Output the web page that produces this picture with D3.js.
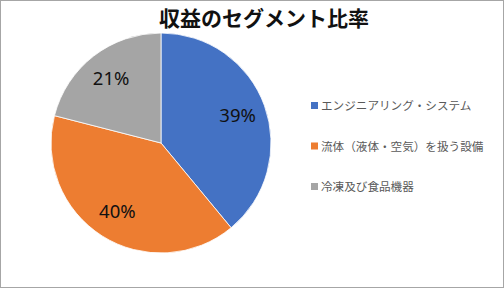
<!DOCTYPE html>
<html>
<head>
<meta charset="utf-8">
<script src="https://cdn.jsdelivr.net/npm/d3@7"></script>
<style>
  body { margin: 0; background: #fff; }
  text { font-family: "Noto Sans CJK JP", "Noto Sans", sans-serif; }
</style>
</head>
<body>
<div id="chart"></div>
<script>
const categories = ["エンジニアリング・システム", "流体（液体・空気）を扱う設備", "冷凍及び食品機器"];
const values = [39, 40, 21];
const colors = ["#4472C4", "#ED7D31", "#A5A5A5"];
const title = "収益のセグメント比率";

const width = 504, height = 288;
const cx = 161, cy = 143, radius = 110;

const svg = d3.select("#chart").append("svg")
  .attr("width", width)
  .attr("height", height);

svg.append("rect")
  .attr("x", 0.5).attr("y", 0.5)
  .attr("width", width - 1).attr("height", height - 1)
  .attr("fill", "#fff")
  .attr("stroke", "#A6A6A6");

svg.append("text")
  .attr("x", 264).attr("y", 26)
  .attr("text-anchor", "middle")
  .attr("font-size", 21)
  .attr("font-weight", "bold")
  .attr("fill", "#111")
  .text(title);

const pie = d3.pie().sort(null).value(d => d);
const arc = d3.arc().innerRadius(0).outerRadius(radius);
const labelArc = d3.arc().innerRadius(radius * 0.74).outerRadius(radius * 0.74);

const g = svg.append("g").attr("transform", "translate(" + cx + "," + cy + ")");
const arcs = pie(values);

g.selectAll("path")
  .data(arcs)
  .join("path")
  .attr("d", arc)
  .attr("fill", (d, i) => colors[i])
  .attr("stroke", "#fff")
  .attr("stroke-width", 0.8);

g.selectAll("text.pct")
  .data(arcs)
  .join("text")
  .attr("class", "pct")
  .attr("transform", d => "translate(" + labelArc.centroid(d) + ")")
  .attr("text-anchor", "middle")
  .attr("dy", "0.35em")
  .attr("font-size", 18.5)
  .attr("fill", "#111")
  .style("font-family", "'Noto Sans', sans-serif")
  .text(d => d.data + "%");

// Legend
const legend = svg.append("g");
const ly = d3.scalePoint().domain(categories).range([106, 187]);
const item = legend.selectAll("g")
  .data(categories)
  .join("g")
  .attr("transform", d => "translate(311," + ly(d) + ")");
item.append("rect")
  .attr("x", 0).attr("y", -4)
  .attr("width", 7).attr("height", 7)
  .attr("fill", (d, i) => colors[i]);
item.append("text")
  .attr("x", 10).attr("y", 0)
  .attr("dy", "0.35em")
  .attr("font-size", 11.6)
  .attr("fill", "#595959")
  .text(d => d);
</script>
</body>
</html>
